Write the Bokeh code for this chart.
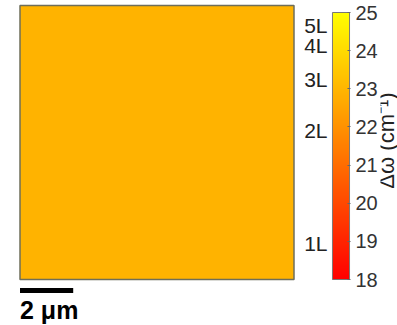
import numpy as np
from bokeh.plotting import figure
from bokeh.layouts import row
from bokeh.models import (LinearColorMapper, Range1d, LinearAxis, FixedTicker)
from bokeh.core.properties import value
from bokeh.embed import file_html
from bokeh.resources import INLINE

# ---------------- data ----------------
MAP_VALUE = 22.9              # uniform Δω over the map (cm^-1)
MAP_W = 10.3                  # map width (µm)
MAP_H = 10.3                  # map height (µm)
SCALE_LEN = 2.0               # scale bar length (µm)
SCALE_TEXT = "2 μm"
CBAR_LOW = 18
CBAR_HIGH = 25
cbar_ticks = [18, 19, 20, 21, 22, 23, 24, 25]
layer_names = ["1L", "2L", "3L", "4L", "5L"]
layer_values = [18.94, 21.91, 23.24, 24.13, 24.66]
CBAR_TITLE = "Δω (cm⁻¹)"

FONT = "Liberation Sans"
palette = ["#ff%02x00" % i for i in range(256)]   # 'autumn' colormap, red -> yellow
mapper = LinearColorMapper(palette=palette, low=CBAR_LOW, high=CBAR_HIGH)

H = 325
# ---------------- map figure ----------------
px = 274.0 / MAP_W            # px per µm
padx = 1.5 / px
pA = figure(width=295, height=H, output_backend="svg", toolbar_location=None,
            x_axis_location=None, y_axis_location=None,
            x_range=Range1d(-padx, MAP_W + padx),
            y_range=Range1d(-46.0 / px, MAP_H + 5.0 / px),
            min_border_left=18, min_border_right=0, min_border_top=0, min_border_bottom=0)
pA.grid.visible = False
pA.outline_line_color = None

pA.image(image=[np.array([[MAP_VALUE]])], x=0, y=0, dw=MAP_W, dh=MAP_H, color_mapper=mapper)
pA.quad(left=[0], right=[MAP_W], bottom=[0], top=[MAP_H], fill_color=None,
        line_color="#6e6e5a", line_width=1.5)
# scale bar
pA.quad(left=[0], right=[SCALE_LEN], top=[-8.5 / px], bottom=[-13.5 / px],
        fill_color="black", line_color=None)
pA.text(x=[0], y=[-16.5 / px], text=[SCALE_TEXT], text_font=value(FONT), text_font_size="25px",
        text_font_style="bold", text_color="black", text_baseline="top", text_align="left")

# ---------------- colorbar figure ----------------
cpx = 267.0 / (CBAR_HIGH - CBAR_LOW)   # px per cm^-1
pB = figure(width=85, height=H, output_backend="svg", toolbar_location=None,
            x_axis_location=None, y_axis_location="right",
            x_range=Range1d(-1 / 18, 1 + 1 / 18),
            y_range=Range1d(CBAR_LOW - 46.0 / cpx, CBAR_HIGH + 12.0 / cpx),
            min_border_left=36, min_border_right=29, min_border_top=0, min_border_bottom=0)
pB.grid.visible = False
pB.outline_line_color = None
pB.image(image=[np.linspace(CBAR_LOW, CBAR_HIGH, 256).reshape(256, 1)], x=0, y=CBAR_LOW,
         dw=1, dh=CBAR_HIGH - CBAR_LOW, color_mapper=mapper)
pB.quad(left=[0], right=[1], bottom=[CBAR_LOW], top=[CBAR_HIGH], fill_color=None,
        line_color="#777777", line_width=1)

ax = pB.yaxis[0]
ax.ticker = FixedTicker(ticks=cbar_ticks)
ax.axis_line_color = None
ax.major_tick_in = 3
ax.major_tick_out = 0
ax.major_tick_line_color = "#666666"
ax.minor_tick_line_color = None
ax.major_label_standoff = 5
ax.major_label_text_font = FONT
ax.major_label_text_font_size = "20px"
ax.major_label_text_color = "#333333"

lax = LinearAxis(ticker=FixedTicker(ticks=layer_values),
                 major_label_overrides={v: n for v, n in zip(layer_values, layer_names)})
lax.axis_line_color = None
lax.major_tick_line_color = None
lax.minor_tick_line_color = None
lax.major_tick_in = 0
lax.major_tick_out = 0
lax.major_label_standoff = 4
lax.major_label_text_font = FONT
lax.major_label_text_font_size = "21px"
lax.major_label_text_color = "#222222"
pB.add_layout(lax, "left")

# ---------------- colorbar title (cut at the right edge, as in the original) ----------------
pC = figure(width=17, height=H, output_backend="svg", toolbar_location=None,
            x_axis_location=None, y_axis_location=None,
            x_range=Range1d(0, 17), y_range=Range1d(H, 0),
            min_border_left=0, min_border_right=0, min_border_top=0, min_border_bottom=0)
pC.grid.visible = False
pC.outline_line_color = None
pC.text(x=[5.8], y=[140], text=[CBAR_TITLE], angle=np.pi / 2, text_font=value(FONT),
        text_font_size="22px", text_color="#222222", text_align="center",
        text_baseline="middle")

layout = row(pA, pB, pC)
open("out.html", "w").write(file_html(layout, INLINE))
